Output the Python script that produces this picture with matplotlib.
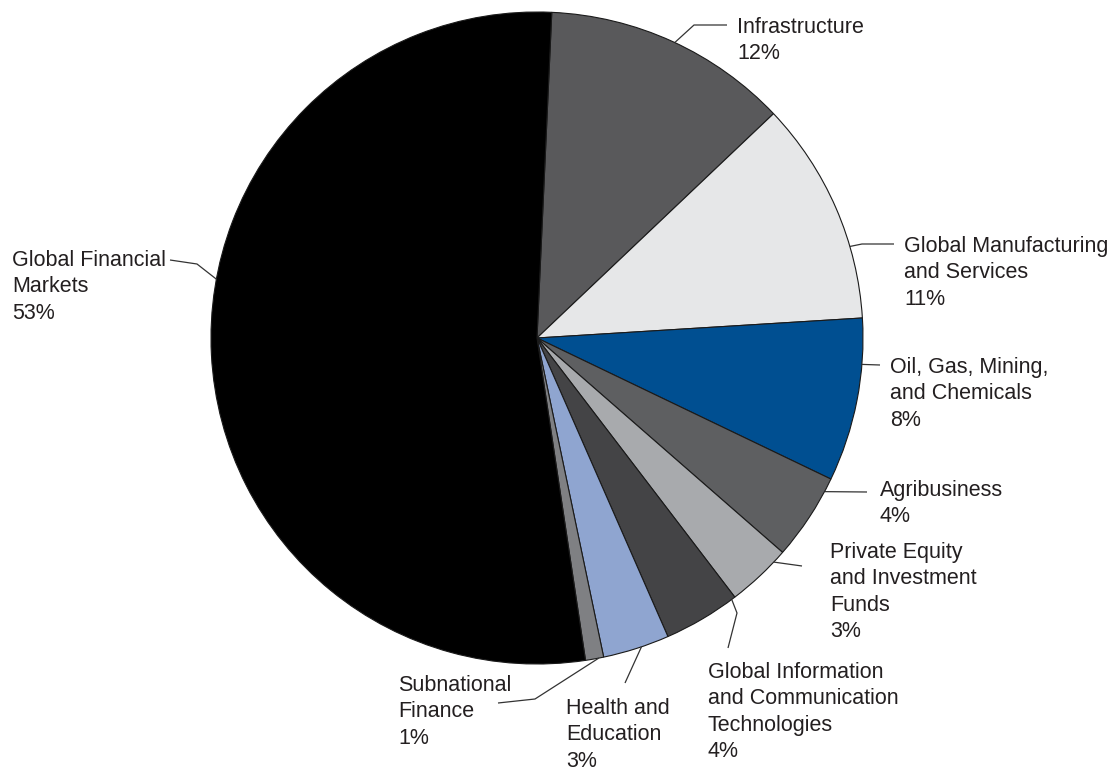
import numpy as np
import matplotlib
matplotlib.use("Agg")
from matplotlib import pyplot as plt

plt.rcParams['font.family'] = ['Liberation Sans', 'DejaVu Sans']

# shares by sector, clockwise from the top
sectors = ["Infrastructure", "Global Manufacturing\nand Services", "Oil, Gas, Mining,\nand Chemicals",
           "Agribusiness", "Private Equity\nand Investment\nFunds",
           "Global Information\nand Communication\nTechnologies", "Health and\nEducation",
           "Subnational\nFinance", "Global Financial\nMarkets"]
shares = [12.2, 11.1, 8.1, 4.3, 3.2, 3.8, 3.3, 0.9, 53.1]
colors = ["#59595b", "#e6e7e8", "#004f91", "#5e5f61", "#a8aaad",
          "#444446", "#8fa5d0", "#7f8083", "#000000"]

W, H = 1112, 768
CX, CY, R = 537, 338, 326
START = 87.4

# label layout: text origin (left, first baseline), anchor position inside wedge, leader path
layout = [
    ((737, 33), 0.51, [(694, 25), (727, 25)]),
    ((904, 252), 0.68, [(862, 244), (894, 244)]),
    ((890, 373), 0.28, [(880, 365)]),
    ((880, 496), 0.16, [(867, 492)]),
    ((830, 558), 0.20, [(802, 566)]),
    ((708, 678), 0.05, [(737, 613), (728, 648)]),
    ((566, 714), 0.42, [(625, 683)]),
    ((398, 691), 0.27, [(535, 699), (498, 703)]),
    ((12, 266), 0.57, [(197, 264), (170, 260)]),
]
LINE_H = 26.4


def fy(y):
    return H - y


fig = plt.figure(figsize=(W / 100, H / 100), dpi=100)
ax = fig.add_axes([0, 0, 1, 1])
ax.pie(shares, colors=colors, startangle=START, counterclock=False,
       center=(CX, fy(CY)), radius=R,
       wedgeprops=dict(edgecolor="#1a1a1a", linewidth=0.8))
ax.set_xlim(0, W)
ax.set_ylim(0, H)
ax.set_aspect('equal')
ax.axis('off')

total = sum(shares)
cum = 0.0
for name, val, (pos, frac, path) in zip(sectors, shares, layout):
    a0 = START - 360 * cum / total
    ang = np.radians(a0 - frac * 360 * val / total)
    cum += val
    rx, ry = CX + R * np.cos(ang), fy(CY) + R * np.sin(ang)
    xs = [rx] + [p[0] for p in path]
    ys = [ry] + [fy(p[1]) for p in path]
    ax.plot(xs, ys, color="#333333", lw=0.9, solid_capstyle='butt')
    lines = name.split("\n") + ["%d%%" % round(val)]
    for i, line in enumerate(lines):
        ax.text(pos[0], fy(pos[1] + i * LINE_H), line, fontsize=15.5,
                color="#231f20", ha='left', va='baseline')

fig.savefig("out.png", dpi=100, facecolor="white")
